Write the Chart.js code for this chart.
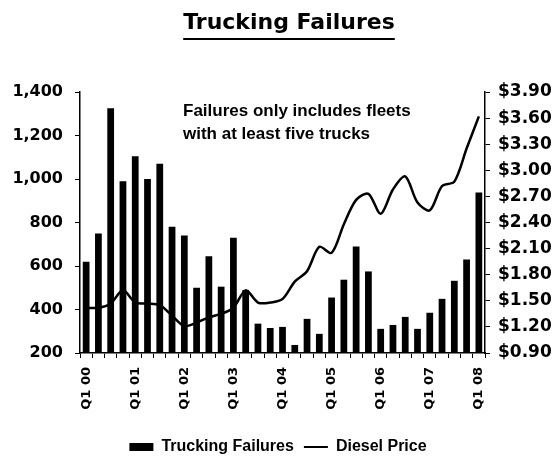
<!DOCTYPE html>
<html>
<head>
<meta charset="utf-8">
<script src="https://cdn.jsdelivr.net/npm/chart.js@4/dist/chart.umd.min.js"></script>
<style>
  html, body { margin: 0; padding: 0; background: #fff; }
  #wrap { width: 556px; height: 465px; position: relative; }
</style>
</head>
<body>
<div id="wrap"><canvas id="truckChart"></canvas></div>
<script>
// kvartal Q1 00 .. Q1 08
const quarters = [
  "Q1 00", "Q2 00", "Q3 00", "Q4 00",
  "Q1 01", "Q2 01", "Q3 01", "Q4 01",
  "Q1 02", "Q2 02", "Q3 02", "Q4 02",
  "Q1 03", "Q2 03", "Q3 03", "Q4 03",
  "Q1 04", "Q2 04", "Q3 04", "Q4 04",
  "Q1 05", "Q2 05", "Q3 05", "Q4 05",
  "Q1 06", "Q2 06", "Q3 06", "Q4 06",
  "Q1 07", "Q2 07", "Q3 07", "Q4 07",
  "Q1 08",
];

const truckingFailures = [
  620, 750, 1325, 990, 1105, 1000, 1070, 780,
  740, 500, 645, 505, 730, 490, 335, 315,
  320, 237, 357, 288, 455, 537, 690, 575,
  311, 329, 366, 311, 385, 449, 532, 630,
  938,
];

const dieselPrice = [
  1.42, 1.42, 1.47, 1.62, 1.48, 1.47, 1.45, 1.33,
  1.21, 1.25, 1.31, 1.35, 1.42, 1.62, 1.48, 1.48,
  1.52, 1.72, 1.84, 2.12, 2.05, 2.38, 2.66, 2.73,
  2.50, 2.78, 2.93, 2.63, 2.54, 2.82, 2.87, 3.25,
  3.62,
];

const chartTitle = "Trucking Failures";
const noteLines = ["Failures only includes fleets", "with at least five trucks"];

// Rubrik med understrykning + anteckning i diagrammet
const textPlugin = {
  id: "textPlugin",
  afterDraw(chart) {
    const ctx = chart.ctx;
    ctx.save();
    ctx.fillStyle = "#000";
    ctx.font = "bold 22px 'DejaVu Sans'";
    ctx.textAlign = "center";
    ctx.textBaseline = "alphabetic";
    const cx = 289;
    ctx.fillText(chartTitle, cx, 29);
    const w = ctx.measureText(chartTitle).width;
    ctx.fillRect(cx - w / 2, 38, w, 2);

    ctx.font = "bold 17px 'Liberation Sans'";
    ctx.textAlign = "left";
    ctx.fillText(noteLines[0], 183, 116);
    ctx.fillText(noteLines[1], 183, 139);
    ctx.restore();
  },
};

const ctx = document.getElementById("truckChart").getContext("2d");

new Chart(ctx, {
  type: "bar",
  data: {
    labels: quarters,
    datasets: [
      {
        label: "Trucking Failures",
        data: truckingFailures,
        backgroundColor: "#000",
        barPercentage: 0.55,
        categoryPercentage: 1,
        yAxisID: "y",
        order: 1,
      },
      {
        type: "line",
        label: "Diesel Price",
        data: dieselPrice,
        borderColor: "#000",
        backgroundColor: "#000",
        borderWidth: 2.5,
        pointRadius: 0,
        tension: 0.3,
        yAxisID: "y2",
        order: 0,
      },
    ],
  },
  options: {
    responsive: true,
    maintainAspectRatio: false,
    animation: false,
    layout: { padding: { top: 92, left: 0, right: 0, bottom: 0 } },
    plugins: {
      tooltip: { enabled: false },
      legend: {
        position: "bottom",
        labels: {
          color: "#000",
          font: { family: "'Liberation Sans'", weight: "bold", size: 16 },
          usePointStyle: true,
          pointStyleWidth: 24,
          boxHeight: 8,
          padding: 10,
          generateLabels: function (chart) {
            return chart.data.datasets.map((ds, i) => ({
              text: ds.label,
              fillStyle: "#000",
              strokeStyle: "#000",
              lineWidth: ds.type === "line" ? 2 : 0,
              pointStyle: ds.type === "line" ? "line" : "rect",
              hidden: false,
              datasetIndex: i,
            }));
          },
        },
      },
    },
    scales: {
      x: {
        afterFit: (s) => { s.height = 76; },
        grid: {
          display: true,
          drawOnChartArea: false,
          color: "#000",
          tickLength: 5,
          offset: true,
        },
        border: { display: true, color: "#000", width: 1.5 },
        ticks: {
          autoSkip: false,
          maxRotation: 90,
          minRotation: 90,
          padding: 9,
          color: "#000",
          font: { family: "'DejaVu Sans'", weight: "bold", size: 13 },
          callback: function (val, i) {
            return i % 4 === 0 ? this.getLabelForValue(val) : "";
          },
        },
      },
      y: {
        position: "left",
        min: 200,
        max: 1400,
        afterFit: (s) => { s.width = 80; },
        grid: { drawOnChartArea: false, color: "#000", tickLength: 5 },
        border: { display: true, color: "#000", width: 1.5 },
        ticks: {
          stepSize: 200,
          padding: 12,
          color: "#000",
          font: { family: "'DejaVu Sans'", weight: "bold", size: 16 },
          callback: (v) => v.toLocaleString("en-US"),
        },
      },
      y2: {
        position: "right",
        min: 0.9,
        max: 3.9,
        afterFit: (s) => { s.width = 71; },
        grid: { drawOnChartArea: false, color: "#000", tickLength: 5 },
        border: { display: true, color: "#000", width: 1.5 },
        ticks: {
          stepSize: 0.3,
          padding: 8,
          color: "#000",
          font: { family: "'DejaVu Sans'", weight: "bold", size: 17 },
          callback: (v) => "$" + v.toFixed(2),
        },
      },
    },
  },
  plugins: [textPlugin],
});
</script>
</body>
</html>
